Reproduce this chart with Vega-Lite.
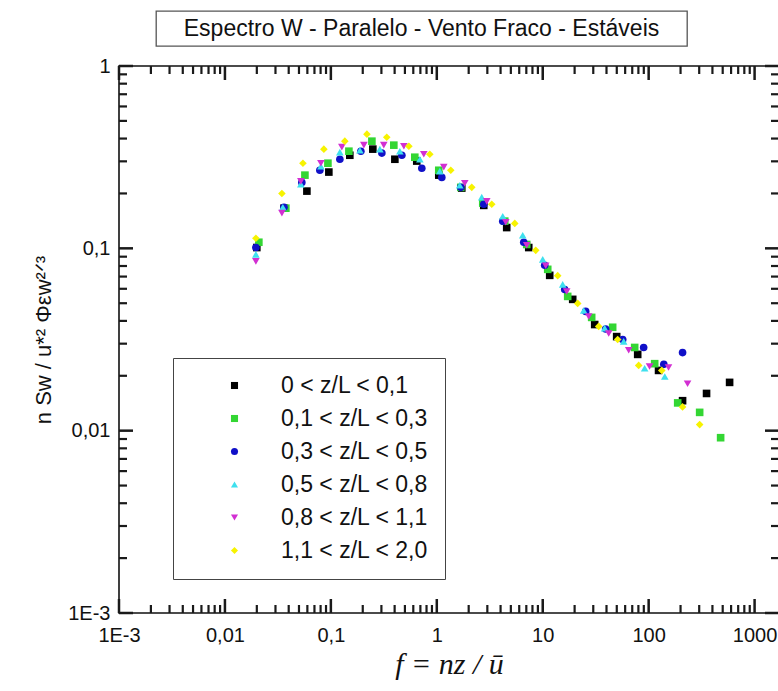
{
  "$schema": "https://vega.github.io/schema/vega-lite/v6.json",
  "padding": {"left": 31, "top": 10, "right": 0, "bottom": 0},
  "spacing": 8,
  "config": {
    "font": "Liberation Sans",
    "view": {"stroke": "#111111", "strokeWidth": 1.6}
  },
  "datasets": {
    "xmaj": [{"f": 0.001}, {"f": 0.01}, {"f": 0.1}, {"f": 1}, {"f": 10}, {"f": 100}, {"f": 1000}],
    "xmin": [{"f": 0.002}, {"f": 0.003}, {"f": 0.004}, {"f": 0.005}, {"f": 0.006}, {"f": 0.007}, {"f": 0.008}, {"f": 0.009},
             {"f": 0.02}, {"f": 0.03}, {"f": 0.04}, {"f": 0.05}, {"f": 0.06}, {"f": 0.07}, {"f": 0.08}, {"f": 0.09},
             {"f": 0.2}, {"f": 0.3}, {"f": 0.4}, {"f": 0.5}, {"f": 0.6}, {"f": 0.7}, {"f": 0.8}, {"f": 0.9},
             {"f": 2}, {"f": 3}, {"f": 4}, {"f": 5}, {"f": 6}, {"f": 7}, {"f": 8}, {"f": 9},
             {"f": 20}, {"f": 30}, {"f": 40}, {"f": 50}, {"f": 60}, {"f": 70}, {"f": 80}, {"f": 90},
             {"f": 200}, {"f": 300}, {"f": 400}, {"f": 500}, {"f": 600}, {"f": 700}, {"f": 800}, {"f": 900}],
    "ymaj": [{"s": 0.001}, {"s": 0.01}, {"s": 0.1}, {"s": 1}],
    "ymin": [{"s": 0.002}, {"s": 0.003}, {"s": 0.004}, {"s": 0.005}, {"s": 0.006}, {"s": 0.007}, {"s": 0.008}, {"s": 0.009},
             {"s": 0.02}, {"s": 0.03}, {"s": 0.04}, {"s": 0.05}, {"s": 0.06}, {"s": 0.07}, {"s": 0.08}, {"s": 0.09},
             {"s": 0.2}, {"s": 0.3}, {"s": 0.4}, {"s": 0.5}, {"s": 0.6}, {"s": 0.7}, {"s": 0.8}, {"s": 0.9}],
    "pts": [
      {"f": 0.0200, "s": 0.101, "g": "0 < z/L < 0,1"},
      {"f": 0.0361, "s": 0.166, "g": "0 < z/L < 0,1"},
      {"f": 0.0594, "s": 0.206, "g": "0 < z/L < 0,1"},
      {"f": 0.0957, "s": 0.262, "g": "0 < z/L < 0,1"},
      {"f": 0.151, "s": 0.324, "g": "0 < z/L < 0,1"},
      {"f": 0.249, "s": 0.350, "g": "0 < z/L < 0,1"},
      {"f": 0.402, "s": 0.308, "g": "0 < z/L < 0,1"},
      {"f": 0.647, "s": 0.301, "g": "0 < z/L < 0,1"},
      {"f": 1.044, "s": 0.252, "g": "0 < z/L < 0,1"},
      {"f": 1.721, "s": 0.214, "g": "0 < z/L < 0,1"},
      {"f": 2.776, "s": 0.172, "g": "0 < z/L < 0,1"},
      {"f": 4.571, "s": 0.130, "g": "0 < z/L < 0,1"},
      {"f": 7.38, "s": 0.101, "g": "0 < z/L < 0,1"},
      {"f": 11.64, "s": 0.0711, "g": "0 < z/L < 0,1"},
      {"f": 19.19, "s": 0.0525, "g": "0 < z/L < 0,1"},
      {"f": 30.95, "s": 0.0382, "g": "0 < z/L < 0,1"},
      {"f": 49.9, "s": 0.0328, "g": "0 < z/L < 0,1"},
      {"f": 78.8, "s": 0.0262, "g": "0 < z/L < 0,1"},
      {"f": 124, "s": 0.0214, "g": "0 < z/L < 0,1"},
      {"f": 209, "s": 0.0146, "g": "0 < z/L < 0,1"},
      {"f": 352, "s": 0.0160, "g": "0 < z/L < 0,1"},
      {"f": 581, "s": 0.0184, "g": "0 < z/L < 0,1"},
      {"f": 0.0209, "s": 0.108, "g": "0,1 < z/L < 0,3"},
      {"f": 0.0376, "s": 0.166, "g": "0,1 < z/L < 0,3"},
      {"f": 0.0569, "s": 0.252, "g": "0,1 < z/L < 0,3"},
      {"f": 0.0938, "s": 0.293, "g": "0,1 < z/L < 0,3"},
      {"f": 0.148, "s": 0.341, "g": "0,1 < z/L < 0,3"},
      {"f": 0.244, "s": 0.387, "g": "0,1 < z/L < 0,3"},
      {"f": 0.393, "s": 0.368, "g": "0,1 < z/L < 0,3"},
      {"f": 0.620, "s": 0.316, "g": "0,1 < z/L < 0,3"},
      {"f": 1.044, "s": 0.268, "g": "0,1 < z/L < 0,3"},
      {"f": 1.684, "s": 0.216, "g": "0,1 < z/L < 0,3"},
      {"f": 2.716, "s": 0.177, "g": "0,1 < z/L < 0,3"},
      {"f": 4.380, "s": 0.141, "g": "0,1 < z/L < 0,3"},
      {"f": 7.063, "s": 0.105, "g": "0,1 < z/L < 0,3"},
      {"f": 11.15, "s": 0.0767, "g": "0,1 < z/L < 0,3"},
      {"f": 17.21, "s": 0.0545, "g": "0,1 < z/L < 0,3"},
      {"f": 28.98, "s": 0.0418, "g": "0,1 < z/L < 0,3"},
      {"f": 45.73, "s": 0.0369, "g": "0,1 < z/L < 0,3"},
      {"f": 73.8, "s": 0.0286, "g": "0,1 < z/L < 0,3"},
      {"f": 114, "s": 0.0233, "g": "0,1 < z/L < 0,3"},
      {"f": 188, "s": 0.0142, "g": "0,1 < z/L < 0,3"},
      {"f": 303, "s": 0.0126, "g": "0,1 < z/L < 0,3"},
      {"f": 478, "s": 0.00915, "g": "0,1 < z/L < 0,3"},
      {"f": 0.0196, "s": 0.101, "g": "0,3 < z/L < 0,5"},
      {"f": 0.0361, "s": 0.168, "g": "0,3 < z/L < 0,5"},
      {"f": 0.0532, "s": 0.230, "g": "0,3 < z/L < 0,5"},
      {"f": 0.0787, "s": 0.268, "g": "0,3 < z/L < 0,5"},
      {"f": 0.1216, "s": 0.308, "g": "0,3 < z/L < 0,5"},
      {"f": 0.192, "s": 0.341, "g": "0,3 < z/L < 0,5"},
      {"f": 0.303, "s": 0.333, "g": "0,3 < z/L < 0,5"},
      {"f": 0.468, "s": 0.324, "g": "0,3 < z/L < 0,5"},
      {"f": 0.722, "s": 0.275, "g": "0,3 < z/L < 0,5"},
      {"f": 1.115, "s": 0.245, "g": "0,3 < z/L < 0,5"},
      {"f": 1.684, "s": 0.216, "g": "0,3 < z/L < 0,5"},
      {"f": 2.776, "s": 0.1745, "g": "0,3 < z/L < 0,5"},
      {"f": 4.195, "s": 0.141, "g": "0,3 < z/L < 0,5"},
      {"f": 6.62, "s": 0.108, "g": "0,3 < z/L < 0,5"},
      {"f": 10.44, "s": 0.0807, "g": "0,3 < z/L < 0,5"},
      {"f": 16.13, "s": 0.0595, "g": "0,3 < z/L < 0,5"},
      {"f": 25.46, "s": 0.0451, "g": "0,3 < z/L < 0,5"},
      {"f": 39.28, "s": 0.0361, "g": "0,3 < z/L < 0,5"},
      {"f": 56.9, "s": 0.0316, "g": "0,3 < z/L < 0,5"},
      {"f": 89.7, "s": 0.0286, "g": "0,3 < z/L < 0,5"},
      {"f": 139, "s": 0.0231, "g": "0,3 < z/L < 0,5"},
      {"f": 209, "s": 0.0268, "g": "0,3 < z/L < 0,5"},
      {"f": 0.0196, "s": 0.0927, "g": "0,5 < z/L < 0,8"},
      {"f": 0.0352, "s": 0.168, "g": "0,5 < z/L < 0,8"},
      {"f": 0.0521, "s": 0.225, "g": "0,5 < z/L < 0,8"},
      {"f": 0.0805, "s": 0.282, "g": "0,5 < z/L < 0,8"},
      {"f": 0.1216, "s": 0.337, "g": "0,5 < z/L < 0,8"},
      {"f": 0.188, "s": 0.345, "g": "0,5 < z/L < 0,8"},
      {"f": 0.290, "s": 0.350, "g": "0,5 < z/L < 0,8"},
      {"f": 0.448, "s": 0.341, "g": "0,5 < z/L < 0,8"},
      {"f": 0.692, "s": 0.308, "g": "0,5 < z/L < 0,8"},
      {"f": 1.067, "s": 0.265, "g": "0,5 < z/L < 0,8"},
      {"f": 1.648, "s": 0.222, "g": "0,5 < z/L < 0,8"},
      {"f": 2.658, "s": 0.191, "g": "0,5 < z/L < 0,8"},
      {"f": 4.195, "s": 0.150, "g": "0,5 < z/L < 0,8"},
      {"f": 6.475, "s": 0.118, "g": "0,5 < z/L < 0,8"},
      {"f": 10.0, "s": 0.0870, "g": "0,5 < z/L < 0,8"},
      {"f": 15.44, "s": 0.0634, "g": "0,5 < z/L < 0,8"},
      {"f": 24.37, "s": 0.0456, "g": "0,5 < z/L < 0,8"},
      {"f": 38.44, "s": 0.0365, "g": "0,5 < z/L < 0,8"},
      {"f": 58.1, "s": 0.0309, "g": "0,5 < z/L < 0,8"},
      {"f": 91.7, "s": 0.0220, "g": "0,5 < z/L < 0,8"},
      {"f": 142, "s": 0.0198, "g": "0,5 < z/L < 0,8"},
      {"f": 0.0196, "s": 0.0848, "g": "0,8 < z/L < 1,1"},
      {"f": 0.0345, "s": 0.156, "g": "0,8 < z/L < 1,1"},
      {"f": 0.0521, "s": 0.233, "g": "0,8 < z/L < 1,1"},
      {"f": 0.0805, "s": 0.293, "g": "0,8 < z/L < 1,1"},
      {"f": 0.127, "s": 0.359, "g": "0,8 < z/L < 1,1"},
      {"f": 0.205, "s": 0.368, "g": "0,8 < z/L < 1,1"},
      {"f": 0.316, "s": 0.368, "g": "0,8 < z/L < 1,1"},
      {"f": 0.489, "s": 0.363, "g": "0,8 < z/L < 1,1"},
      {"f": 0.754, "s": 0.328, "g": "0,8 < z/L < 1,1"},
      {"f": 1.164, "s": 0.279, "g": "0,8 < z/L < 1,1"},
      {"f": 1.837, "s": 0.2275, "g": "0,8 < z/L < 1,1"},
      {"f": 2.963, "s": 0.181, "g": "0,8 < z/L < 1,1"},
      {"f": 4.477, "s": 0.139, "g": "0,8 < z/L < 1,1"},
      {"f": 7.063, "s": 0.104, "g": "0,8 < z/L < 1,1"},
      {"f": 10.67, "s": 0.0803, "g": "0,8 < z/L < 1,1"},
      {"f": 16.84, "s": 0.0580, "g": "0,8 < z/L < 1,1"},
      {"f": 27.16, "s": 0.0423, "g": "0,8 < z/L < 1,1"},
      {"f": 41.96, "s": 0.0341, "g": "0,8 < z/L < 1,1"},
      {"f": 64.8, "s": 0.0276, "g": "0,8 < z/L < 1,1"},
      {"f": 102, "s": 0.0225, "g": "0,8 < z/L < 1,1"},
      {"f": 154, "s": 0.0222, "g": "0,8 < z/L < 1,1"},
      {"f": 233, "s": 0.0181, "g": "0,8 < z/L < 1,1"},
      {"f": 0.0196, "s": 0.1135, "g": "1,1 < z/L < 2,0"},
      {"f": 0.0345, "s": 0.200, "g": "1,1 < z/L < 2,0"},
      {"f": 0.0545, "s": 0.293, "g": "1,1 < z/L < 2,0"},
      {"f": 0.0859, "s": 0.350, "g": "1,1 < z/L < 2,0"},
      {"f": 0.1355, "s": 0.387, "g": "1,1 < z/L < 2,0"},
      {"f": 0.219, "s": 0.423, "g": "1,1 < z/L < 2,0"},
      {"f": 0.337, "s": 0.407, "g": "1,1 < z/L < 2,0"},
      {"f": 0.545, "s": 0.363, "g": "1,1 < z/L < 2,0"},
      {"f": 0.859, "s": 0.328, "g": "1,1 < z/L < 2,0"},
      {"f": 1.355, "s": 0.268, "g": "1,1 < z/L < 2,0"},
      {"f": 2.138, "s": 0.216, "g": "1,1 < z/L < 2,0"},
      {"f": 3.303, "s": 0.1745, "g": "1,1 < z/L < 2,0"},
      {"f": 5.445, "s": 0.137, "g": "1,1 < z/L < 2,0"},
      {"f": 8.59, "s": 0.0975, "g": "1,1 < z/L < 2,0"},
      {"f": 13.85, "s": 0.0708, "g": "1,1 < z/L < 2,0"},
      {"f": 21.38, "s": 0.0499, "g": "1,1 < z/L < 2,0"},
      {"f": 33.76, "s": 0.0373, "g": "1,1 < z/L < 2,0"},
      {"f": 51.0, "s": 0.0316, "g": "1,1 < z/L < 2,0"},
      {"f": 80.5, "s": 0.0228, "g": "1,1 < z/L < 2,0"},
      {"f": 133, "s": 0.0214, "g": "1,1 < z/L < 2,0"},
      {"f": 209, "s": 0.0135, "g": "1,1 < z/L < 2,0"},
      {"f": 303, "s": 0.0108, "g": "1,1 < z/L < 2,0"}
    ]
  },
  "vconcat": [
    {
      "spacing": 10,
      "hconcat": [
        {
          "width": 26,
          "height": 35,
          "view": {"stroke": null},
          "data": {"values": []},
          "mark": "text"
        },
        {
          "width": 531,
          "height": 35,
          "view": {"stroke": "#555555", "strokeWidth": 1.3},
          "data": {"values": [{"t": "Espectro W - Paralelo - Vento Fraco - Estáveis"}]},
          "mark": {"type": "text", "fontSize": 23, "font": "Liberation Sans", "color": "#111111"},
          "encoding": {"text": {"field": "t", "type": "nominal"}}
        }
      ]
    },
    {
      "width": 660,
      "height": 547,
      "layer": [
        {
          "data": {"name": "pts"},
          "mark": {"type": "point", "filled": true, "size": 58, "opacity": 1, "strokeWidth": 0},
          "encoding": {
            "x": {
              "field": "f", "type": "quantitative",
              "scale": {"type": "log", "domain": [0.001, 1700], "nice": false},
              "axis": {
                "orient": "bottom",
                "values": [0.001, 0.01, 0.1, 1, 10, 100, 1000],
                "labelExpr": "datum.value == 0.001 ? '1E-3' : datum.value == 0.01 ? '0,01' : datum.value == 0.1 ? '0,1' : datum.value == 1 ? '1' : datum.value == 10 ? '10' : datum.value == 100 ? '100' : '1000'",
                "labelOverlap": false, "labelFlush": false,
                "labelFontSize": 20, "labelColor": "#111111",
                "ticks": false, "labelPadding": 12,
                "domain": false, "grid": false,
                "title": "f = nz / ū",
                "titleFont": "Liberation Serif", "titleFontStyle": "italic", "titleFontWeight": "normal",
                "titleFontSize": 30, "titleColor": "#111111", "titlePadding": 4
              }
            },
            "y": {
              "field": "s", "type": "quantitative",
              "scale": {"type": "log", "domain": [0.001, 1], "nice": false},
              "axis": {
                "orient": "left",
                "values": [0.001, 0.01, 0.1, 1],
                "labelExpr": "datum.value == 0.001 ? '1E-3' : datum.value == 0.01 ? '0,01' : datum.value == 0.1 ? '0,1' : '1'",
                "labelOverlap": false, "labelFlush": false,
                "labelFontSize": 20, "labelColor": "#111111",
                "ticks": false, "labelPadding": 9,
                "domain": false, "grid": false,
                "minExtent": 52, "maxExtent": 52,
                "title": "n Sw / u*² Φεw²ᐟ³",
                "titleFontSize": 22, "titleFontWeight": "normal", "titleColor": "#111111", "titlePadding": 12
              }
            },
            "color": {
              "field": "g", "type": "nominal",
              "scale": {
                "domain": ["0 < z/L < 0,1", "0,1 < z/L < 0,3", "0,3 < z/L < 0,5", "0,5 < z/L < 0,8", "0,8 < z/L < 1,1", "1,1 < z/L < 2,0"],
                "range": ["#000000", "#33d633", "#1010c8", "#3ee0ee", "#d22fd2", "#f7f300"]
              },
              "legend": {
                "title": null, "orient": "none", "legendX": 54, "legendY": 347,
                "labelFontSize": 23, "labelColor": "#111111", "labelLimit": 400,
                "symbolSize": 50, "symbolStrokeWidth": 0,
                "padding": 16, "rowPadding": 9, "symbolOffset": 34, "labelOffset": 35,
                "strokeColor": "#444444", "fillColor": "#ffffff"
              }
            },
            "shape": {
              "field": "g", "type": "nominal",
              "scale": {
                "domain": ["0 < z/L < 0,1", "0,1 < z/L < 0,3", "0,3 < z/L < 0,5", "0,5 < z/L < 0,8", "0,8 < z/L < 1,1", "1,1 < z/L < 2,0"],
                "range": ["square", "square", "circle", "triangle-up", "triangle-down", "diamond"]
              },
              "legend": {
                "title": null, "orient": "none", "legendX": 54, "legendY": 347,
                "labelFontSize": 23, "labelColor": "#111111", "labelLimit": 400,
                "symbolSize": 50, "symbolStrokeWidth": 0,
                "padding": 16, "rowPadding": 9, "symbolOffset": 34, "labelOffset": 35,
                "strokeColor": "#444444", "fillColor": "#ffffff"
              }
            }
          }
        },
        {
          "data": {"name": "xmaj"},
          "mark": {"type": "rule", "color": "#1a1a1a", "strokeWidth": 2.5},
          "encoding": {"x": {"field": "f", "type": "quantitative"}, "y": {"datum": 0.001, "type": "quantitative"}, "y2": {"datum": 0.0011933}}
        },
        {
          "data": {"name": "xmaj"},
          "mark": {"type": "rule", "color": "#1a1a1a", "strokeWidth": 2.5},
          "encoding": {"x": {"field": "f", "type": "quantitative"}, "y": {"datum": 1, "type": "quantitative"}, "y2": {"datum": 0.838}}
        },
        {
          "data": {"name": "xmin"},
          "mark": {"type": "rule", "color": "#1a1a1a", "strokeWidth": 2.2},
          "encoding": {"x": {"field": "f", "type": "quantitative"}, "y": {"datum": 0.001, "type": "quantitative"}, "y2": {"datum": 0.0011063}}
        },
        {
          "data": {"name": "xmin"},
          "mark": {"type": "rule", "color": "#1a1a1a", "strokeWidth": 2.2},
          "encoding": {"x": {"field": "f", "type": "quantitative"}, "y": {"datum": 1, "type": "quantitative"}, "y2": {"datum": 0.9039}}
        },
        {
          "data": {"name": "ymaj"},
          "mark": {"type": "rule", "color": "#1a1a1a", "strokeWidth": 2.5},
          "encoding": {"y": {"field": "s", "type": "quantitative"}, "x": {"datum": 0.001, "type": "quantitative"}, "x2": {"datum": 0.0013558}}
        },
        {
          "data": {"name": "ymaj"},
          "mark": {"type": "rule", "color": "#1a1a1a", "strokeWidth": 2.5},
          "encoding": {"y": {"field": "s", "type": "quantitative"}, "x": {"datum": 1700, "type": "quantitative"}, "x2": {"datum": 1253.9}}
        },
        {
          "data": {"name": "ymin"},
          "mark": {"type": "rule", "color": "#1a1a1a", "strokeWidth": 2.2},
          "encoding": {"y": {"field": "s", "type": "quantitative"}, "x": {"datum": 0.001, "type": "quantitative"}, "x2": {"datum": 0.0011899}}
        },
        {
          "data": {"name": "ymin"},
          "mark": {"type": "rule", "color": "#1a1a1a", "strokeWidth": 2.2},
          "encoding": {"y": {"field": "s", "type": "quantitative"}, "x": {"datum": 1700, "type": "quantitative"}, "x2": {"datum": 1428.7}}
        }
      ]
    }
  ]
}
